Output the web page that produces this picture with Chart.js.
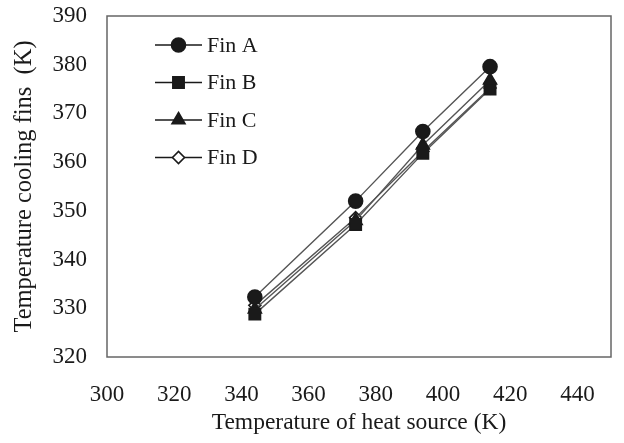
<!DOCTYPE html>
<html lang="en">
<head>
    <meta charset="UTF-8">
    <title>Temperature cooling fins</title>
    <script src="https://cdn.jsdelivr.net/npm/chart.js"></script>
    <style>
        html, body { margin: 0; padding: 0; background: #fff; }
        #wrap { width: 624px; height: 443px; }
    </style>
</head>
<body>
    <div id="wrap"><canvas id="myChart"></canvas></div>

    <script>
        // heat source temperatures (K)
        const heatSource = [344, 374, 394, 414];
        // cooling fin temperatures (K)
        const finA = [332.3, 352.0, 366.3, 379.6];
        const finB = [328.8, 347.2, 361.8, 375.0];
        const finC = [329.8, 348.0, 363.5, 376.8];
        const finD = [330.6, 348.6, 362.2, 375.2];
        const seriesNames = ['Fin A', 'Fin B', 'Fin C', 'Fin D'];

        const serif = "'Liberation Serif', 'DejaVu Serif', serif";
        const ink = '#1a1a1a';

        function points(ys) {
            return heatSource.map((x, i) => ({ x: x, y: ys[i] }));
        }

        const styles = [
            { pointStyle: 'circle', pointRadius: 7, pointBackgroundColor: ink },
            { pointStyle: 'rect', pointRadius: 8, pointBackgroundColor: ink },
            { pointStyle: 'triangle', pointRadius: 7.5, pointBackgroundColor: ink },
            { pointStyle: 'rectRot', pointRadius: 6, pointBackgroundColor: '#fff' }
        ];

        const datasets = [finA, finB, finC, finD].map((ys, i) => Object.assign({
            label: seriesNames[i],
            data: points(ys),
            borderColor: '#555',
            borderWidth: 1.4,
            pointBorderColor: ink,
            pointBorderWidth: 1.6,
            tension: 0
        }, styles[i]));

        // box around the plot area + legend drawn inside it
        const framePlugin = {
            id: 'frame',
            afterDraw(chart) {
                const { ctx, chartArea: a } = chart;
                ctx.save();
                ctx.strokeStyle = '#666';
                ctx.lineWidth = 1.5;
                ctx.strokeRect(a.left, a.top, a.right - a.left, a.bottom - a.top);

                chart.data.datasets.forEach((ds, i) => {
                    const y = a.top + 29 + i * 37.5;
                    const x0 = a.left + 48, x1 = a.left + 95;
                    ctx.strokeStyle = ink;
                    ctx.lineWidth = 1.4;
                    ctx.beginPath();
                    ctx.moveTo(x0, y);
                    ctx.lineTo(x1, y);
                    ctx.stroke();
                    ctx.fillStyle = ds.pointBackgroundColor;
                    ctx.strokeStyle = ds.pointBorderColor;
                    ctx.lineWidth = ds.pointBorderWidth;
                    Chart.helpers.drawPoint(ctx, {
                        pointStyle: ds.pointStyle,
                        radius: ds.pointRadius,
                        rotation: 0,
                        borderWidth: ds.pointBorderWidth
                    }, (x0 + x1) / 2, y);
                    ctx.fillStyle = ink;
                    ctx.font = '22px ' + serif;
                    ctx.textBaseline = 'middle';
                    ctx.textAlign = 'left';
                    ctx.fillText(ds.label, x1 + 5, y + 1);
                });
                ctx.restore();
            }
        };

        const ctx = document.getElementById('myChart').getContext('2d');
        const myChart = new Chart(ctx, {
            type: 'line',
            data: { datasets: datasets },
            options: {
                responsive: true,
                maintainAspectRatio: false,
                animation: false,
                layout: { padding: { top: 16, right: 13, left: 0, bottom: 0 } },
                plugins: {
                    legend: { display: false },
                    tooltip: { enabled: false }
                },
                scales: {
                    x: {
                        type: 'linear',
                        min: 300,
                        max: 450,
                        afterFit: axis => {
                            axis.height = 86;
                            axis.paddingLeft = 0;
                            axis.paddingRight = 0;
                        },
                        grid: { display: false, drawTicks: false },
                        border: { display: false },
                        ticks: {
                            stepSize: 20,
                            includeBounds: false,
                            autoSkip: false,
                            maxRotation: 0,
                            padding: 24,
                            color: ink,
                            font: { family: serif, size: 23 }
                        },
                        title: {
                            display: true,
                            text: 'Temperature of heat source (K)',
                            color: ink,
                            font: { family: serif, size: 23.5 },
                            padding: { top: 0, bottom: 6 }
                        }
                    },
                    y: {
                        type: 'linear',
                        min: 320,
                        max: 390,
                        afterFit: axis => {
                            axis.width = 107;
                            axis.paddingTop = 0;
                            axis.paddingBottom = 0;
                        },
                        grid: { display: false, drawTicks: false },
                        border: { display: false },
                        ticks: { stepSize: 10, padding: 20, color: ink, font: { family: serif, size: 23 } },
                        title: {
                            display: true,
                            text: 'Temperature cooling fins  (K)',
                            color: ink,
                            font: { family: serif, size: 24.5 },
                            padding: { top: 10, bottom: 0 }
                        }
                    }
                }
            },
            plugins: [framePlugin]
        });
    </script>
</body>
</html>
